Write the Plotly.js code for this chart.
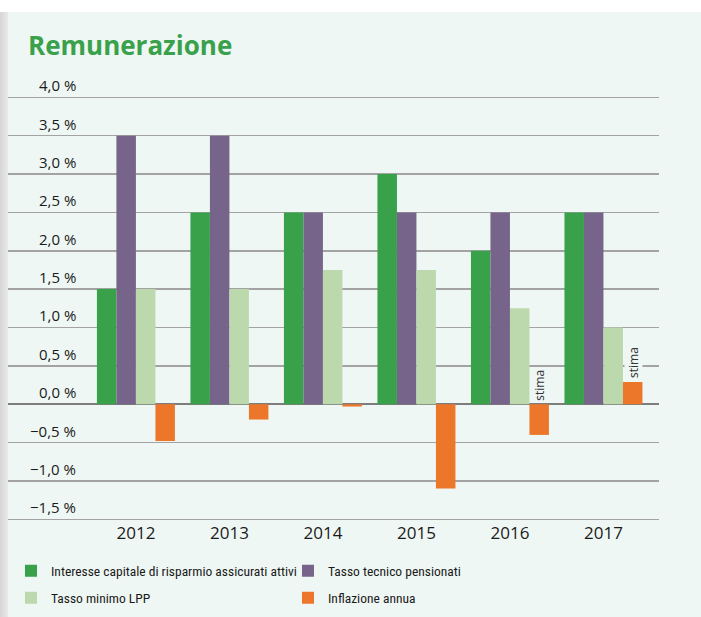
<!DOCTYPE html>
<html>
<head>
<meta charset="utf-8">
<script src="https://cdn.plot.ly/plotly-3.0.1.min.js"></script>
<style>
  html, body { margin: 0; padding: 0; background: #ffffff; width: 701px; height: 617px; overflow: hidden; }
  #edge { position: absolute; left: 0; top: 12px; width: 8px; height: 605px; background: linear-gradient(to right, #d6d6d6, #e9e9e9); }
  #chart { position: absolute; left: 8px; top: 12px; width: 693px; height: 605px; }
</style>
</head>
<body>
<div id="edge"></div>
<div id="chart"></div>
<script>
// ---- data ----
const years = ["2012", "2013", "2014", "2015", "2016", "2017"];
const interesseAttivi = [1.5, 2.5, 2.5, 3.0, 2.0, 2.5];
const tassoTecnico = [3.5, 3.5, 2.5, 2.5, 2.5, 2.5];
const tassoMinimoLPP = [1.5, 1.5, 1.75, 1.75, 1.25, 1.0];
const inflazione = [-0.48, -0.2, -0.03, -1.1, -0.4, 0.29];
const estimateYears = ["2016", "2017"];
const yTickValues = [4.0, 3.5, 3.0, 2.5, 2.0, 1.5, 1.0, 0.5, 0.0, -0.5, -1.0, -1.5];
const yTickLabels = ["4,0 %", "3,5 %", "3,0 %", "2,5 %", "2,0 %", "1,5 %", "1,0 %", "0,5 %", "0,0 %", "\u22120,5 %", "\u22121,0 %", "\u22121,5 %"];
const seriesNames = ["Interesse capitale di risparmio assicurati attivi", "Tasso tecnico pensionati", "Tasso minimo LPP", "Inflazione annua"];

// ---- styles ----
const colors = ["#38a14a", "#76648b", "#bbd9ad", "#ec772a"];
const legendRows = ["legend", "legend", "legend2", "legend2"];
const bg = "#eff7f4";
const baseFont = "Open Sans, Noto Sans, sans-serif";
const legendFont = "Liberation Sans Narrow, Roboto Condensed, Arial Narrow, Roboto, sans-serif";

const seriesValues = [interesseAttivi, tassoTecnico, tassoMinimoLPP, inflazione];
const traces = seriesValues.map((vals, i) => ({
  type: "bar",
  x: years,
  y: vals,
  name: seriesNames[i],
  legend: legendRows[i],
  marker: { color: colors[i], line: { width: 0 } },
  hoverinfo: "skip"
}));

const annotations = yTickValues.map((v, i) => ({
  xref: "paper", yref: "y",
  x: 0.1075, y: v,
  xanchor: "right", yanchor: "bottom",
  text: yTickLabels[i],
  showarrow: false,
  font: { family: baseFont, size: 15, color: "#1a1a1a" }
}));

estimateYears.forEach((yr) => {
  const idx = years.indexOf(yr);
  const v = Math.max(0, inflazione[idx]);
  annotations.push({
    xref: "x", yref: "y",
    x: idx, y: v,
    xshift: 30, yshift: 3,
    xanchor: "center", yanchor: "bottom",
    textangle: -90,
    text: "stima",
    showarrow: false,
    bgcolor: bg,
    borderpad: 0,
    font: { family: baseFont, size: 12, color: "#333333" }
  });
});

const legendBase = {
  orientation: "h",
  x: 0.0046, xanchor: "left",
  yanchor: "middle",
  entrywidth: 232,
  entrywidthmode: "pixels",
  bgcolor: "rgba(0,0,0,0)",
  font: { family: legendFont, size: 13.5, color: "#1a1a1a" },
  traceorder: "normal"
};

const layout = {
  width: 693,
  height: 605,
  paper_bgcolor: bg,
  plot_bgcolor: bg,
  margin: { l: 0, r: 42, t: 81, b: 96 },
  barmode: "group",
  bargap: 0.166,
  bargroupgap: 0,
  title: {
    text: "Remunerazione",
    xref: "container", yref: "container",
    x: 0.0289, xanchor: "left",
    y: 1 - 34 / 605, yanchor: "middle",
    font: { family: baseFont, size: 26, color: "#38a14a", weight: 700 }
  },
  xaxis: {
    type: "category",
    range: [-1.368, 5.594],
    showgrid: false,
    zeroline: false,
    showline: false,
    ticks: "",
    tickfont: { family: baseFont, size: 17, color: "#1a1a1a" },
    fixedrange: true
  },
  yaxis: {
    range: [-1.522, 4.056],
    tickvals: yTickValues,
    showticklabels: false,
    showgrid: true,
    gridcolor: "#a3a3a3",
    gridwidth: 1.5,
    zeroline: true,
    zerolinecolor: "#7d7d7d",
    zerolinewidth: 2.5,
    showline: false,
    ticks: "",
    fixedrange: true
  },
  showlegend: true,
  legend: Object.assign({}, legendBase, { y: -0.1168 }),
  legend2: Object.assign({}, legendBase, { y: -0.1799 }),
  annotations: annotations
};

Plotly.newPlot("chart", traces, layout, { displayModeBar: false, staticPlot: true });
</script>
</body>
</html>
